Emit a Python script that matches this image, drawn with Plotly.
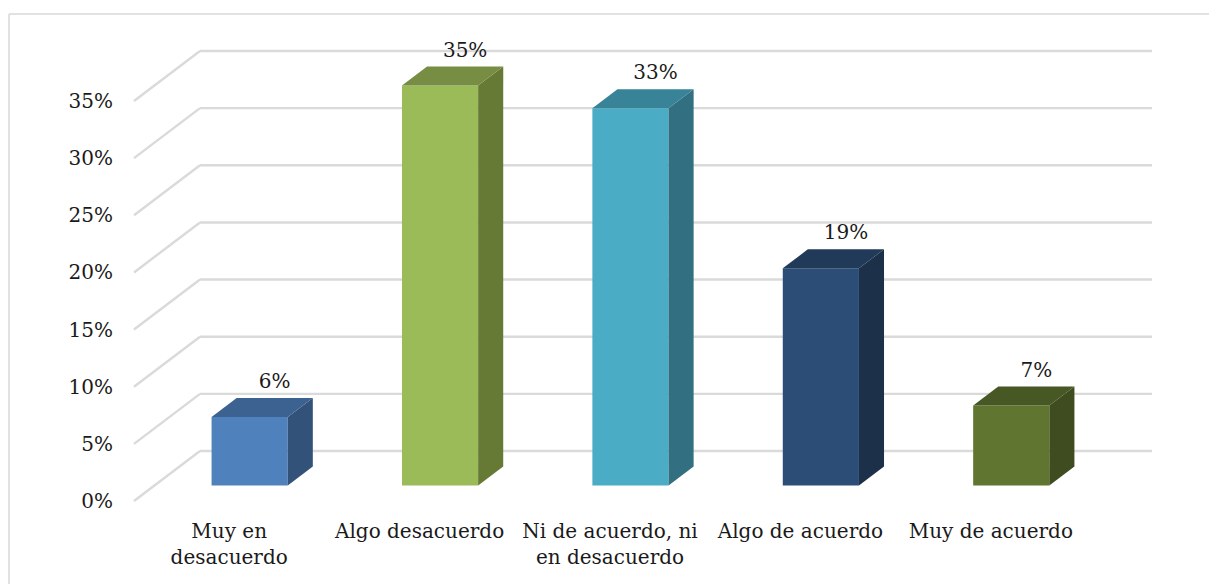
import plotly.graph_objects as go

# Survey results by level of agreement
categories = ["Muy en<br>desacuerdo", "Algo desacuerdo", "Ni de acuerdo, ni<br>en desacuerdo",
              "Algo de acuerdo", "Muy de acuerdo"]
percent_values = [6, 35, 33, 19, 7]
percent_ticks = [0, 5, 10, 15, 20, 25, 30, 35]

front_colors = ["#4F81BD", "#9BBB59", "#4BACC6", "#2C4D75", "#5F7530"]
side_colors = ["#325279", "#667A35", "#316F81", "#1C3149", "#3E4C1F"]
top_colors = ["#3C6291", "#778D43", "#398399", "#213A59", "#475824"]

# Figure geometry, in pixels
WIDTH, HEIGHT = 1209, 584
WALL_LEFT, WALL_RIGHT, WALL_TOP, WALL_BOTTOM = 134, 1152, 51, 501
PAD = 10  # room around the wall so the grid lines are not clipped
CATEGORY_PX = 190.4
PERCENT_PX = 400 / 35
DEPTH_X_PX, DEPTH_Y_PX = 66, 50
LABEL_LIFT_PX = 5

# Oblique projection: depth 0 is the front plane, depth 1 the back wall
DEPTH_X = DEPTH_X_PX / CATEGORY_PX
DEPTH_Y = DEPTH_Y_PX / PERCENT_PX
BAR_NEAR, BAR_FAR = 0.31, 0.69
BAR_HALF = 0.2
WALL_X0 = -0.5
WALL_X1 = WALL_X0 + (WALL_RIGHT - WALL_LEFT) / CATEGORY_PX
X_RANGE = [WALL_X0 - PAD / CATEGORY_PX, WALL_X1 + PAD / CATEGORY_PX]
Y_RANGE = [-PAD / PERCENT_PX, (WALL_BOTTOM - WALL_TOP + PAD) / PERCENT_PX]

PLOT_LEFT, PLOT_RIGHT = WALL_LEFT - PAD, WALL_RIGHT + PAD
PLOT_TOP, PLOT_BOTTOM = WALL_TOP - PAD, WALL_BOTTOM + PAD


def project(x, value, depth):
    return x + depth * DEPTH_X, value + depth * DEPTH_Y


def polygon(points):
    projected = [project(*p) for p in points + points[:1]]
    return [p[0] for p in projected], [p[1] for p in projected]


GRID = dict(color="#DADADA", width=2.4)
FONT = dict(family="DejaVu Serif", size=20, color="#1A1A1A")

fig = go.Figure()

# Grid: a diagonal on the side wall and a horizontal line on the back wall
shapes = []
for tick in percent_ticks:
    x0, y0 = project(WALL_X0, tick, 0)
    x1, y1 = project(WALL_X0, tick, 1)
    shapes.append(dict(type="line", layer="below", xref="x", yref="y",
                       x0=x0, y0=y0, x1=x1, y1=y1, line=GRID))
    shapes.append(dict(type="line", layer="below", xref="x", yref="y",
                       x0=x1, y0=y1, x1=WALL_X1, y1=y1, line=GRID))

# Chart frame: only the left and top edges are visible
paper_x = lambda px: (px - PLOT_LEFT) / (PLOT_RIGHT - PLOT_LEFT)
paper_y = lambda px: (PLOT_BOTTOM - px) / (PLOT_BOTTOM - PLOT_TOP)
FRAME = dict(color="#D9D9D9", width=1.5)
shapes.append(dict(type="line", xref="paper", yref="paper", layer="below",
                   x0=paper_x(9), x1=paper_x(9), y0=paper_y(14), y1=paper_y(HEIGHT), line=FRAME))
shapes.append(dict(type="line", xref="paper", yref="paper", layer="below",
                   x0=paper_x(9), x1=paper_x(WIDTH), y0=paper_y(14), y1=paper_y(14), line=FRAME))

# Front faces
near_x = [project(i, 0, BAR_NEAR)[0] for i in range(len(percent_values))]
near_base = project(0, 0, BAR_NEAR)[1]
fig.add_trace(go.Bar(
    x=near_x, y=percent_values, base=near_base, width=2 * BAR_HALF,
    marker=dict(color=front_colors, line=dict(width=0)), hoverinfo="skip", showlegend=False,
))

# Side and top faces
for i, value in enumerate(percent_values):
    left, right = i - BAR_HALF, i + BAR_HALF
    side_x, side_y = polygon([(right, 0, BAR_NEAR), (right, 0, BAR_FAR),
                              (right, value, BAR_FAR), (right, value, BAR_NEAR)])
    top_x, top_y = polygon([(left, value, BAR_NEAR), (right, value, BAR_NEAR),
                            (right, value, BAR_FAR), (left, value, BAR_FAR)])
    for xs, ys, color in ((side_x, side_y, side_colors[i]), (top_x, top_y, top_colors[i])):
        fig.add_trace(go.Scatter(x=xs, y=ys, mode="lines", fill="toself", fillcolor=color,
                                 line=dict(width=0, color=color), hoverinfo="skip", showlegend=False))

# Value labels above the far edge of each bar
label_points = [project(i, value, BAR_FAR) for i, value in enumerate(percent_values)]
fig.add_trace(go.Scatter(
    x=[p[0] for p in label_points],
    y=[p[1] + LABEL_LIFT_PX / PERCENT_PX for p in label_points],
    mode="text", text=[f"{value}%" for value in percent_values],
    textposition="top center", textfont=FONT, cliponaxis=False,
    hoverinfo="skip", showlegend=False,
))

fig.update_layout(
    width=WIDTH, height=HEIGHT,
    margin=dict(l=PLOT_LEFT, r=WIDTH - PLOT_RIGHT, t=PLOT_TOP, b=HEIGHT - PLOT_BOTTOM, pad=0),
    paper_bgcolor="white", plot_bgcolor="white",
    font=FONT, showlegend=False, shapes=shapes,
    xaxis=dict(range=X_RANGE, tickmode="array", tickvals=list(range(len(categories))),
               ticktext=categories, ticks="outside", ticklen=2, tickcolor="rgba(0,0,0,0)",
               showgrid=False, zeroline=False, showline=False, tickangle=0, automargin=False),
    yaxis=dict(range=Y_RANGE, tickmode="array", tickvals=percent_ticks,
               ticktext=[f"{t}%" for t in percent_ticks], ticks="outside", ticklen=6,
               tickcolor="rgba(0,0,0,0)", showgrid=False, zeroline=False, showline=False,
               automargin=False),
)

fig.write_html("out.html", config=dict(displayModeBar=False))
